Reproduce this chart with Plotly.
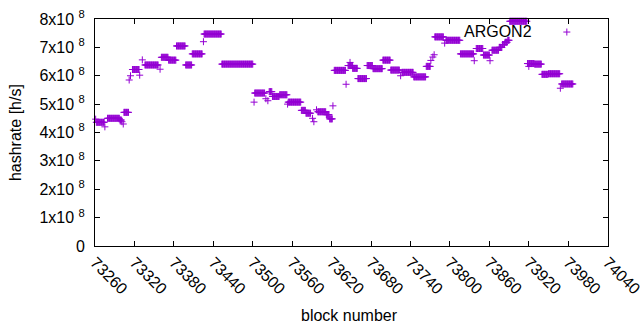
import plotly.graph_objects as go

# Runs of consecutive blocks sharing the same hashrate
run_start = [73261, 73262, 73275, 73279, 73298, 73301, 73303, 73304, 73312, 73314,
             73317, 73328, 73332, 73336, 73359, 73361, 73372, 73384, 73398, 73408,
             73425, 73426, 73453, 73502, 73503, 73520, 73523, 73525, 73530, 73541,
             73553, 73554, 73574, 73581, 73591, 73593, 73597, 73599, 73612, 73617,
             73622, 73624, 73642, 73645, 73648, 73652, 73660, 73674, 73683, 73698,
             73710, 73725, 73727, 73745, 73764, 73771, 73774, 73776, 73777, 73792,
             73794, 73816, 73837, 73840, 73851, 73861, 73864, 73875, 73880, 73884,
             73888, 73891, 73918, 73920, 73929, 73940, 73950, 73968, 73970]
run_end = [73261, 73274, 73275, 73297, 73300, 73301, 73303, 73311, 73312, 73314,
           73327, 73328, 73332, 73356, 73359, 73371, 73383, 73397, 73407, 73423,
           73425, 73452, 73500, 73502, 73518, 73520, 73523, 73529, 73540, 73552,
           73553, 73573, 73580, 73588, 73591, 73593, 73597, 73611, 73616, 73621,
           73622, 73641, 73642, 73652, 73648, 73659, 73673, 73682, 73697, 73709,
           73723, 73725, 73744, 73763, 73770, 73771, 73774, 73776, 73790, 73792,
           73815, 73836, 73837, 73850, 73860, 73861, 73874, 73879, 73883, 73887,
           73890, 73917, 73928, 73920, 73939, 73949, 73967, 73968, 73987]
run_value = [4.47e8, 4.36e8, 4.20e8, 4.50e8, 4.44e8, 4.38e8, 4.30e8, 4.71e8, 5.85e8, 6.00e8,
             6.22e8, 6.02e8, 6.56e8, 6.38e8, 6.23e8, 6.65e8, 6.55e8, 7.05e8, 6.38e8, 6.77e8,
             7.20e8, 7.47e8, 6.41e8, 5.07e8, 5.39e8, 5.19e8, 5.12e8, 5.44e8, 5.27e8, 5.33e8,
             5.00e8, 5.07e8, 4.78e8, 4.68e8, 4.50e8, 4.38e8, 4.80e8, 4.73e8, 4.63e8, 4.48e8,
             4.94e8, 6.19e8, 5.70e8, 6.36e8, 6.47e8, 6.26e8, 5.90e8, 6.36e8, 6.25e8, 6.55e8,
             6.20e8, 6.00e8, 6.12e8, 5.96e8, 6.33e8, 6.54e8, 6.66e8, 6.74e8, 7.37e8, 7.15e8,
             7.25e8, 6.77e8, 6.53e8, 6.96e8, 6.73e8, 6.53e8, 6.90e8, 7.00e8, 7.10e8, 7.18e8,
             7.25e8, 7.92e8, 6.43e8, 6.33e8, 6.41e8, 6.05e8, 6.07e8, 5.56e8, 5.71e8]

x_ticks = [73260, 73320, 73380, 73440, 73500, 73560, 73620, 73680, 73740, 73800, 73860, 73920, 73980, 74040]
y_ticks = [0, 1e8, 2e8, 3e8, 4e8, 5e8, 6e8, 7e8, 8e8]
y_ticklabels = ["0", "1x10 <sup>8</sup>", "2x10 <sup>8</sup>", "3x10 <sup>8</sup>", "4x10 <sup>8</sup>",
                "5x10 <sup>8</sup>", "6x10 <sup>8</sup>", "7x10 <sup>8</sup>", "8x10 <sup>8</sup>"]
series_name = "ARGON2"

blocks, rates = [], []
for s, e, v in zip(run_start, run_end, run_value):
    for b in range(s, e + 1):
        blocks.append(b)
        rates.append(v)

COLOR = "#9400D3"
FONT = "Liberation Sans, Arial, sans-serif"

fig = go.Figure()
fig.add_trace(go.Scatter(
    x=blocks, y=rates, mode="markers", name=series_name, showlegend=False,
    cliponaxis=False,
    marker=dict(symbol="cross-thin", size=5, color=COLOR,
                line=dict(color=COLOR, width=1)),
))

L, R, T, B = 95, 31.5, 19.3, 84.3
PW, PH = 640 - L - R, 330 - T - B

axis_common = dict(showline=True, linecolor="black", linewidth=1, mirror="ticks",
                   ticks="inside", ticklen=5, tickcolor="black", tickwidth=1,
                   showgrid=False, zeroline=False, automargin=False,
                   ticklabeloverflow="allow",
                   tickfont=dict(family=FONT, size=16, color="black"))

fig.update_xaxes(range=[73260, 74040.5], tickvals=x_ticks, ticktext=[str(t) for t in x_ticks],
                 tickangle=45, **axis_common)
fig.update_yaxes(range=[0, 8e8], tickvals=y_ticks, ticktext=y_ticklabels,
                 ticklabelstandoff=6, **axis_common)

def px_x(px):
    return (px - L) / PW

def px_y(py):
    return (330 - B - py) / PH

fig.add_annotation(text="hashrate [h/s]", xref="paper", yref="paper",
                   x=px_x(15), y=px_y(133), textangle=-90, showarrow=False,
                   xanchor="center", yanchor="middle",
                   font=dict(family=FONT, size=16, color="black"))
fig.add_annotation(text="block number", xref="paper", yref="paper",
                   x=px_x(349.5), y=px_y(315), showarrow=False,
                   xanchor="center", yanchor="middle",
                   font=dict(family=FONT, size=16, color="black"))
# gnuplot-style key: text then sample
fig.add_annotation(text=series_name, xref="paper", yref="paper",
                   x=px_x(534.5), y=px_y(31.5), showarrow=False,
                   xanchor="right", yanchor="middle",
                   font=dict(family=FONT, size=16, color="black"))
kx, ky = px_x(567.3), px_y(32.3)
for (a0, a1, b0, b1) in [(-3.5, 3.5, 0, 0), (0, 0, -3.5, 3.5)]:
    fig.add_shape(type="line", xref="paper", yref="paper",
                  xsizemode="pixel", ysizemode="pixel", xanchor=kx, yanchor=ky,
                  x0=a0, x1=a1, y0=b0, y1=b1, line=dict(color=COLOR, width=1))

fig.update_layout(width=640, height=330, margin=dict(l=L, r=R, t=T, b=B, pad=0),
                  paper_bgcolor="white", plot_bgcolor="white",
                  font=dict(family=FONT, size=16, color="black"))

fig.write_html("out.html", config={"displayModeBar": False},
               post_script="document.body.style.margin='0';document.body.style.padding='0';document.body.style.overflow='hidden';")
